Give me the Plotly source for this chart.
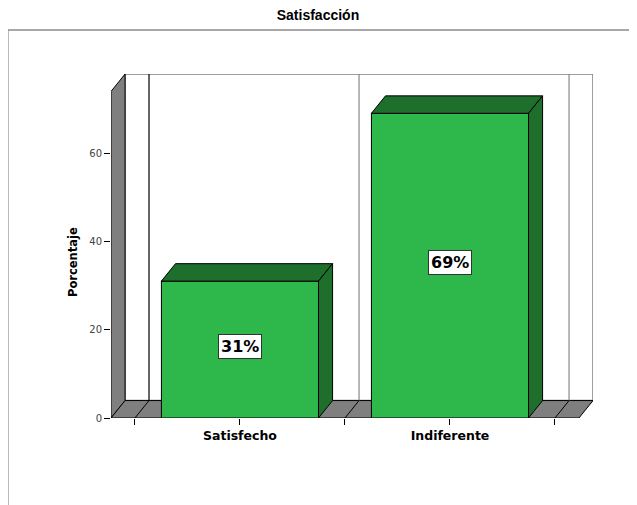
import plotly.graph_objects as go

categories = ["Satisfecho", "Indiferente"]
percentages = [31, 69]
y_ticks = [0, 20, 40, 60]

# 3D look: depth offset in data units
DX = 0.067
DY = 3.95
BAR_W = 0.748
X_RANGE = [-0.614, 1.681]
Y_RANGE = [0, 77.9]

FRONT = "#2EB84B"
DARK = "#1E6E2C"
WALL = "#7F7F7F"
BOLD_FONT = "DejaVu Sans"

xs = list(range(len(categories)))

fig = go.Figure()

# front faces
fig.add_trace(go.Bar(
    x=xs, y=percentages, width=BAR_W,
    marker=dict(color=FRONT, line=dict(color="black", width=1)),
    hoverinfo="skip", showlegend=False,
))

# tops and right sides
for x, v in zip(xs, percentages):
    x0, x1 = x - BAR_W / 2, x + BAR_W / 2
    fig.add_trace(go.Scatter(
        x=[x0, x0 + DX, x1 + DX, x1, x0], y=[v, v + DY, v + DY, v, v],
        fill="toself", fillcolor=DARK, mode="lines",
        line=dict(color="black", width=1), hoverinfo="skip", showlegend=False,
    ))
    fig.add_trace(go.Scatter(
        x=[x1, x1, x1 + DX, x1 + DX, x1], y=[0, v, v + DY, DY, 0],
        fill="toself", fillcolor=DARK, mode="lines",
        line=dict(color="black", width=1), hoverinfo="skip", showlegend=False,
    ))
    fig.add_annotation(
        x=x, y=v / 2 + 0.8, text=f"<b>{v}%</b>", showarrow=False,
        font=dict(family=BOLD_FONT, size=16, color="black"),
        bgcolor="white", bordercolor="#333", borderwidth=1, borderpad=2,
    )

# walls and floor
xl, xr = X_RANGE
ytop = Y_RANGE[1]
shapes = [
    # back wall
    dict(type="rect", x0=xl + DX, x1=xr, y0=DY, y1=ytop,
         fillcolor="white", line=dict(color="#808080", width=1.5), layer="below"),
    # left side wall
    dict(type="path", path=f"M {xl},0 L {xl},{ytop - DY} L {xl + DX},{ytop} L {xl + DX},{DY} Z",
         fillcolor=WALL, line=dict(color="black", width=1), layer="below"),
    # floor
    dict(type="path", path=f"M {xl},0 L {xl + DX},{DY} L {xr},{DY} L {xr - DX},0 Z",
         fillcolor=WALL, line=dict(color="black", width=1), layer="below"),
]
for i, b in enumerate([-0.5, 0.5, 1.5]):
    shapes.append(dict(type="line", x0=b + DX, x1=b + DX, y0=DY, y1=ytop,
                       line=dict(color="black" if i == 0 else "#888", width=1.2), layer="below"))
    shapes.append(dict(type="line", x0=b, x1=b + DX, y0=0, y1=DY,
                       line=dict(color="black", width=1), layer="below"))
# outer frame
shapes.append(dict(type="rect", xref="paper", yref="paper", x0=-0.214, x1=1.3, y0=-0.4, y1=1.128,
                   fillcolor="rgba(0,0,0,0)", line=dict(color="#8c8c8c", width=1.5), layer="below"))

# page body adds an 8px offset, so the figure is laid out 8px smaller
fig.update_layout(
    width=629, height=497,
    margin=dict(l=103, r=44, t=66, b=87),
    paper_bgcolor="white", plot_bgcolor="white",
    font=dict(family="Liberation Sans, Arial", color="black"),
    title=dict(text="<b>Satisfacción</b>", x=(318 - 8) / 629, xanchor="center", y=1 - 7 / 497,
               yref="container", yanchor="middle", font=dict(size=14)),
    shapes=shapes,
    showlegend=False,
    xaxis=dict(
        range=X_RANGE, showgrid=False, zeroline=False, showline=False,
        tickvals=[-0.5, 0, 0.5, 1, 1.5],
        ticktext=["", "<b>" + categories[0] + "</b>", "", "<b>" + categories[1] + "</b>", ""],
        ticks="outside", ticklen=6, tickcolor="black",
        tickfont=dict(family=BOLD_FONT, size=12.5),
    ),
    yaxis=dict(
        range=Y_RANGE, showgrid=False, zeroline=False, showline=False,
        tickvals=y_ticks, ticks="outside", ticklen=6, tickcolor="black",
        tickfont=dict(family=BOLD_FONT, size=10, color="#444"),
    ),
    annotations=list(fig.layout.annotations) + [
        dict(text="<b>Porcentaje</b>", xref="paper", yref="paper",
             x=(73 - 111) / 482, y=(418 - 262) / 344, textangle=-90,
             xanchor="center", yanchor="middle",
             showarrow=False, font=dict(family=BOLD_FONT, size=11.5)),
    ],
)

fig.write_html("out.html")
